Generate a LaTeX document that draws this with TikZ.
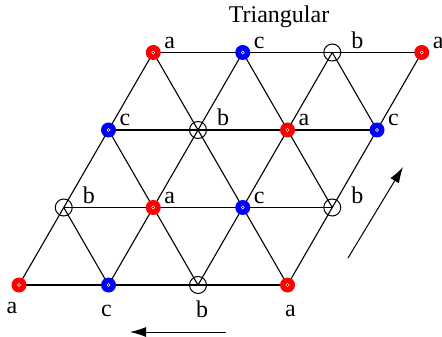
\documentclass[tikz,border=0pt]{standalone}
\usepackage{fontspec}
\setmainfont{Liberation Serif}
\newfontfamily\sitefont{Liberation Serif}
\usetikzlibrary{arrows.meta}

\tikzset{
  dotsite/.style={circle, fill=#1, inner sep=0pt, minimum size=7.5pt,
    path picture={\fill[white] (path picture bounding box.center) circle (0.95pt);
      \fill[black] (path picture bounding box.center) circle (0.4pt);}},
  opensite/.style={circle, draw, line width=0.5pt, inner sep=0pt, minimum size=8.5pt},
  bond/.style={line width=0.55pt},
  hint/.style={line width=0.5pt, -{Latex[length=8pt,width=5pt]}},
}

\begin{document}
\begin{tikzpicture}[x=44.75pt, y=38.75pt, font=\sitefont\fontsize{12pt}{14pt}\selectfont]
\useasboundingbox (-9.5pt,-25.5pt) rectangle (211.5pt,142.5pt);
% lattice sites
\foreach \i in {0,...,3}
  \foreach \j in {0,...,3}
    \coordinate (p\i\j) at (\i+0.5*\j,\j);
% bonds
\foreach \k in {0,...,3} {
  \draw[bond] (p0\k) -- (p3\k);
  \draw[bond] (p\k0) -- (p\k3);
}
\foreach \u/\v in {10/01,20/02,30/03,31/13,32/23}
  \draw[bond] (p\u) -- (p\v);
% sublattices a, c, b
\foreach \i in {0,...,3}
  \foreach \j in {0,...,3} {
    \pgfmathtruncatemacro\k{mod(\i-\j+3,3)}
    \ifcase\k
      \node[dotsite=red] (s\i\j) at (p\i\j) {}; \def\lab{a}\def\dx{8.25pt}
    \or
      \node[dotsite=blue] (s\i\j) at (p\i\j) {}; \def\lab{c}\def\dx{8.25pt}
    \or
      \node[opensite] (s\i\j) at (p\i\j) {}; \def\lab{b}\def\dx{12.5pt}
    \fi
    \ifnum\j>0
      \node[anchor=base] (l\i\j) at ([shift={(\dx,2pt)}]p\i\j) {\lab};
    \fi
  }
\foreach \i/\lab/\dx/\dy in {0/a/-3.5/-14,1/c/-1/-15.5,2/b/2/-16,3/a/1.5/-15.5}
  \node[anchor=base] (l\i0) at ([shift={(\dx pt,\dy pt)}]p\i0) {\lab};
\node[anchor=base] (title) at (130pt,131pt) {Triangular};
% translation arrows
\coordinate (h1) at (103.5pt,-23.5pt);
\coordinate (h2) at (55.5pt,-23.5pt);
\coordinate (v1) at (164.5pt,13.5pt);
\coordinate (v2) at (192pt,59pt);
\draw[hint] (h1) -- (h2);
\draw[hint] (v1) -- (v2);
\end{tikzpicture}
\end{document}
